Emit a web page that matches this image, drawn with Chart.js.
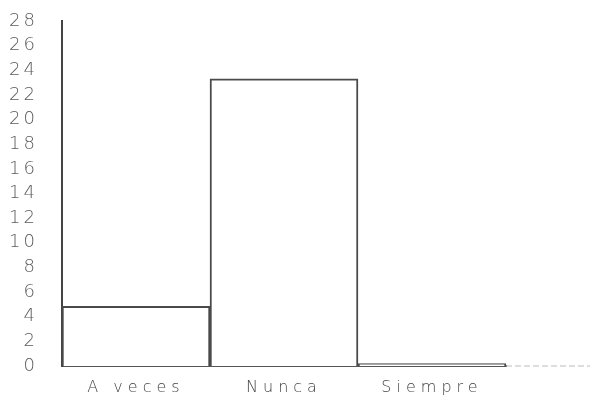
<!DOCTYPE html>
<html>
<head>
<meta charset="utf-8">
<script src="https://cdn.jsdelivr.net/npm/chart.js@4/dist/chart.umd.min.js"></script>
<style>
html,body{margin:0;padding:0;background:#fff;}
#wrap{width:590px;height:402px;position:relative;}
</style>
</head>
<body>
<div id="wrap"><canvas id="c"></canvas></div>
<script>
const categories = ["A veces", "Nunca", "Siempre"];
const values = [4.85, 23.3, 0.2];
const yTicks = [0, 2, 4, 6, 8, 10, 12, 14, 16, 18, 20, 22, 24, 26, 28];

const spacing = {
  id: 'spacing',
  beforeLayout(chart){ chart.ctx.letterSpacing = '3px'; },
  beforeDraw(chart){ chart.ctx.letterSpacing = '3px'; },
  afterDraw(chart){
    const {ctx, chartArea, scales} = chart;
    const y0 = scales.y.getPixelForValue(0);
    ctx.save();
    ctx.strokeStyle = '#bbb';
    ctx.lineWidth = 1;
    ctx.setLineDash([6,3]);
    ctx.beginPath();
    ctx.moveTo(chartArea.right, y0);
    ctx.lineTo(chart.width, y0);
    ctx.stroke();
    ctx.restore();
  }
};

new Chart(document.getElementById('c'), {
  type: 'bar',
  data: {
    labels: categories,
    datasets: [{
      data: values,
      backgroundColor: '#ffffff',
      borderColor: '#4a4a4a',
      borderWidth: 2,
      categoryPercentage: 1,
      barPercentage: 1
    }]
  },
  options: {
    responsive: true,
    maintainAspectRatio: false,
    animation: false,
    layout: { padding: { top: 21, right: 84, left: 0, bottom: 0 } },
    plugins: { legend: { display: false }, tooltip: { enabled: false } },
    scales: {
      x: {
        afterFit(axis){
          axis.height = 36;
          if (!axis._lsWrapped) {
            const orig = axis.drawLabels;
            axis.drawLabels = function(ca){
              const c = this.ctx; const prev = c.letterSpacing;
              c.letterSpacing = '5px'; orig.call(this, ca); c.letterSpacing = prev;
            };
            axis._lsWrapped = true;
          }
        },
        grid: { display: false, drawTicks: false },
        border: { display: true, color: '#555', width: 2 },
        ticks: { color: '#444', font: { family: 'DejaVu Sans', size: 16, weight: '300', lineHeight: 1 }, padding: 14 }
      },
      y: {
        min: 0, max: 28,
        afterFit(axis){ axis.width = 62; axis.paddingTop = 0; axis.paddingBottom = 0; },
        afterBuildTicks(axis){ axis.ticks = yTicks.map(v => ({value: v})); },
        grid: { display: false, drawTicks: false },
        border: { display: true, color: '#444', width: 2 },
        ticks: { autoSkip: false, color: '#5a5a5a', font: { family: 'DejaVu Sans', size: 18, weight: '300', lineHeight: 1 }, padding: 24 }
      }
    }
  },
  plugins: [spacing]
});
</script>
</body>
</html>
